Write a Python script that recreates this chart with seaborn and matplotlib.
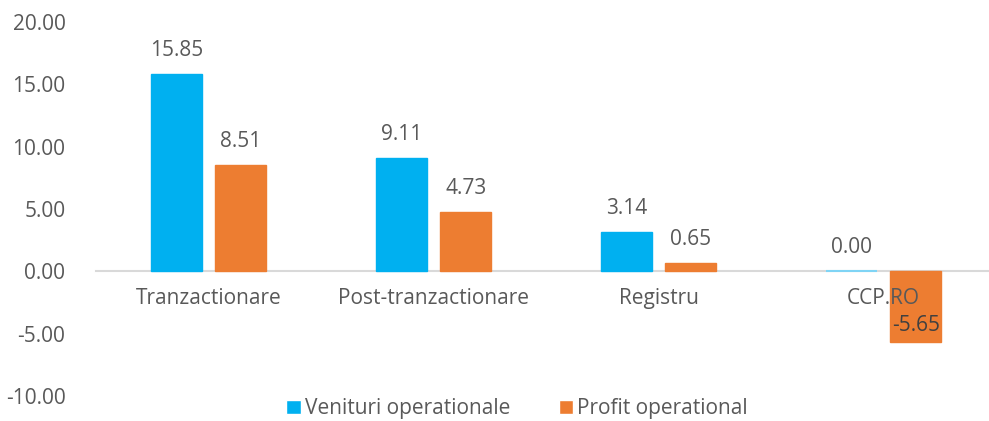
import matplotlib
matplotlib.use("Agg")
import matplotlib.pyplot as plt
import seaborn as sns
import pandas as pd

categories = ["Tranzactionare", "Post-tranzactionare", "Registru", "CCP.RO"]
venituri = [15.85, 9.11, 3.14, 0.00]
profit = [8.51, 4.73, 0.65, -5.65]
series_names = ["Venituri operationale", "Profit operational"]
colors = ["#00B0F0", "#ED7D31"]

df = pd.DataFrame({
    "Categorie": categories * 2,
    "Valoare": venituri + profit,
    "Serie": [series_names[0]] * len(categories) + [series_names[1]] * len(categories),
})

sns.set_theme(style="white")
plt.rcParams["font.family"] = ["Open Sans", "DejaVu Sans"]
text_color = "#595959"

fig = plt.figure(figsize=(9.89, 4.21), dpi=100)
ax = fig.add_axes([96 / 989, 25 / 421, 900 / 989, 374 / 421])

sns.barplot(data=df, x="Categorie", y="Valoare", hue="Serie", order=categories,
            hue_order=series_names, palette=colors, width=0.572, gap=0.21,
            saturation=1, ax=ax, legend=True)

for bar_container, col in zip(ax.containers, colors):
    for p in bar_container:
        p.set_edgecolor(col)
        p.set_linewidth(1)
        p.set_zorder(1)
        if p.get_height() == 0:
            p.set_edgecolor("#7FD4F5")
            p.set_linewidth(1.5)

ax.set_ylim(-10, 20)
ax.set_xlim(-0.5, 3.5)
ax.set_yticks([-10, -5, 0, 5, 10, 15, 20])
ax.set_yticklabels([f"{v:.2f}" for v in [-10, -5, 0, 5, 10, 15, 20]])
ax.tick_params(axis="y", length=0, pad=22, labelsize=15, labelcolor=text_color)
ax.tick_params(axis="x", length=0, pad=12, labelsize=15, labelcolor=text_color)
ax.set_xlabel("")
ax.set_ylabel("")
for s in ["left", "right", "top"]:
    ax.spines[s].set_visible(False)
ax.spines["bottom"].set_position(("data", 0))
ax.spines["bottom"].set_color("#D9D9D9")
ax.spines["bottom"].set_linewidth(1.5)
ax.spines["bottom"].set_zorder(0.5)
ax.xaxis.set_zorder(5)

for bar_container in ax.containers:
    for p in bar_container:
        v = p.get_height() if p.get_y() >= 0 else p.get_y()
        x = p.get_x() + p.get_width() / 2
        if v >= 0:
            ax.annotate(f"{v:.2f}", (x, v), xytext=(0, 17), textcoords="offset points",
                        ha="center", va="center", fontsize=15, color=text_color, zorder=6)
        else:
            ax.annotate(f"{v:.2f}", (x, v), xytext=(0, 12), textcoords="offset points",
                        ha="center", va="center", fontsize=15, color="#404040", zorder=6)

leg = ax.legend(loc="center", bbox_to_anchor=(0.468, -0.034), ncol=2, frameon=False,
                fontsize=15, handlelength=0.7, handleheight=0.7, handletextpad=0.2,
                columnspacing=2.3, borderpad=0.1)
for t in leg.get_texts():
    t.set_color(text_color)

fig.savefig("out.png", dpi=100)
